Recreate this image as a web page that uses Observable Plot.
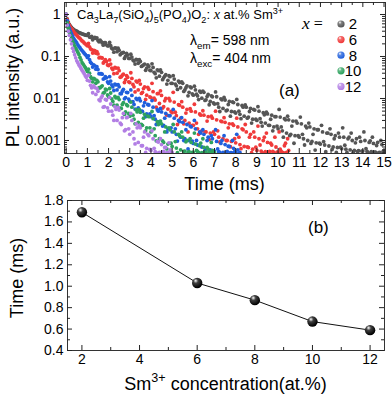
<!DOCTYPE html>
<html><head><meta charset="utf-8">
<script src="https://cdn.jsdelivr.net/npm/d3@7"></script>
<script src="https://cdn.jsdelivr.net/npm/@observablehq/plot@0.6"></script>
<style>
body{margin:0;background:#fff;}
#chart{width:392px;height:396px;font-family:"Liberation Sans",Arial,sans-serif;}
#chart svg{display:block;overflow:visible;}
</style></head><body><div id="chart"></div>
<script>
// ---------- Data ----------
const time = [0,0.05,0.1,0.15,0.2,0.25,0.3,0.35,0.4,0.45,0.5,0.55,0.6,0.65,0.7,0.75,0.8,0.85,0.9,0.95,
1,1.1,1.2,1.3,1.4,1.5,1.6,1.7,1.8,1.9,2,2.1,2.2,2.3,2.4,2.5,2.6,2.7,2.8,2.9,
3,3.1,3.2,3.3,3.4,3.5,3.6,3.7,3.8,3.9,4,4.1,4.2,4.3,4.4,4.5,4.6,4.7,4.8,4.9,
5,5.1,5.2,5.3,5.4,5.5,5.6,5.7,5.8,5.9,6,6.1,6.2,6.3,6.4,6.5,6.6,6.7,6.8,6.9,
7,7.1,7.2,7.3,7.4,7.5,7.6,7.7,7.8,7.9,8,8.1,8.2,8.3,8.4,8.5,8.6,8.7,8.8,8.9,
9,9.1,9.2,9.3,9.4,9.5,9.6,9.7,9.8,9.9,10,10.1,10.2,10.3,10.4,10.5,10.6,10.7,10.8,10.9,
11,11.1,11.2,11.3,11.4,11.5,11.6,11.7,11.8,11.9,12,12.1,12.2,12.3,12.4,12.5,12.6,12.7,12.8,12.9,
13,13.1,13.2,13.3,13.4,13.5,13.6,13.7,13.8,13.9,14,14.1,14.2,14.3,14.4,14.5,14.6,14.7,14.8,14.9,15];

// in-between sampling times (second set of readings)
const timeMid = [1.05,1.15,1.25,1.35,1.45,1.55,1.65,1.75,1.85,1.95,2.05,2.15,2.25,2.35,2.45,2.55,2.65,2.75,2.85,2.95,
3.05,3.15,3.25,3.35,3.45,3.55,3.65,3.75,3.85,3.95,4.05,4.15,4.25,4.35,4.45,4.55,4.65,4.75,4.85,4.95,
5.05,5.15,5.25,5.35,5.45,5.55,5.65,5.75,5.85,5.95,6.05,6.15,6.25,6.35,6.45,6.55,6.65,6.75,6.85,6.95,
7.05,7.15,7.25,7.35,7.45,7.55,7.65,7.75,7.85,7.95,8.05,8.15,8.25,8.35,8.45,8.55,8.65,8.75,8.85,8.95,
9.05,9.15,9.25,9.35,9.45,9.55,9.65,9.75,9.85,9.95,10.05,10.15,10.25,10.35,10.45,10.55,10.65,10.75,10.85,10.95,
11.05,11.15,11.25,11.35,11.45,11.55,11.65,11.75,11.85,11.95,12.05,12.15,12.25,12.35,12.45,12.55,12.65,12.75,12.85,12.95,
13.05,13.15,13.25,13.35,13.45,13.55,13.65,13.75,13.85,13.95,14.05,14.15,14.25,14.35,14.45,14.55,14.65,14.75,14.85,14.95];

const decay_x2 = [1,0.78,0.66,0.58,0.53,0.49,0.46,0.44,0.42,0.41,0.40,0.385,0.37,0.365,0.355,0.345,0.34,0.33,0.325,0.32,
0.32,0.29,0.30,0.27,0.27,0.24,0.245,0.21,0.215,0.19,
0.18,0.18,0.15,0.16,0.13,0.14,0.118,0.125,0.102,0.108,
0.09,0.097,0.078,0.085,0.069,0.076,0.06,0.066,0.053,0.058,
0.046,0.055,0.039,0.048,0.034,0.042,0.031,0.037,0.027,0.033,
0.023,0.029,0.020,0.026,0.018,0.023,0.016,0.020,0.014,0.018,
0.012,0.016,0.0115,0.015,0.0102,0.014,0.0093,0.0125,0.0085,0.011,
0.0074,0.011,0.0062,0.0098,0.0058,0.0092,0.0053,0.0085,0.0049,0.0080,
0.0045,0.0072,0.0042,0.0068,0.0038,0.0062,0.0036,0.0058,0.0032,0.0053,
0.0030,0.0050,0.0027,0.0046,0.0026,0.0043,0.0023,0.0040,0.0021,0.0037,
0.0019,0.0036,0.0017,0.0033,0.0015,0.0031,0.0014,0.0029,0.0013,0.0026,
0.0012,0.0025,0.0011,0.0022,0.0010,0.0021,0.00095,0.0019,0.00088,0.0018,
0.00082,0.0016,0.00078,0.0015,0.00074,0.0014,0.00070,0.0013,0.00068,0.0012,
0.00064,0.0012,0.00062,0.0011,0.00060,0.0010,0.00058,0.0011,0.00057,0.00095,
0.00056,0.0010,0.00055,0.0009,0.00054,0.00085,0.00053,0.0009,0.00052,0.0008,0.00055];
const decay_x2_mid = [0.35,0.286,0.249,0.284,0.278,0.224,0.228,0.186,0.214,0.179,
0.216,0.157,0.127,0.158,0.158,0.110,0.121,0.090,0.119,0.090,
0.113,0.082,0.066,0.083,0.084,0.058,0.063,0.047,0.063,0.047,
0.067,0.042,0.031,0.046,0.048,0.028,0.034,0.022,0.035,0.023,
0.035,0.022,0.0164,0.024,0.025,0.0147,0.018,0.0116,0.019,0.0129,
0.0196,0.0126,0.0094,0.014,0.0149,0.009,0.0111,0.0071,0.0116,0.0078,
0.0143,0.0075,0.0049,0.0093,0.0106,0.0051,0.0072,0.0038,0.0083,0.0048,
0.0095,0.005,0.0033,0.0062,0.007,0.0034,0.0049,0.0026,0.0055,0.0032,
0.0064,0.0033,0.0022,0.0041,0.0047,0.0023,0.0032,0.0017,0.0037,0.0022,
0.0055,0.0021,0.0012,0.0031,0.0038,0.0013,0.0022,0.00086,0.0029,0.0013,
0.0036,0.0014,0.00078,0.002,0.0026,0.00085,0.0014,0.00059,0.0018,0.00086,
0.0023,0.00094,0.00054,0.0015,0.0019,0.00061,0.0011,0.00052,0.0015,0.00069,
0.002,0.00077,0.00052,0.0012,0.0015,0.00051,0.00088,0.00055,0.0012,0.00056,
0.0016,0.00064,0.00052,0.00098,0.0012,0.00053,0.00076,0.00051,0.001,0.00054];

const decay_x6 = [1,0.76,0.63,0.56,0.50,0.46,0.43,0.39,0.36,0.34,0.32,0.30,0.28,0.27,0.25,0.235,0.225,0.21,0.20,0.19,
0.18,0.17,0.145,0.14,0.12,0.115,0.095,0.092,0.076,0.076,
0.061,0.066,0.049,0.055,0.040,0.046,0.033,0.038,0.028,0.032,
0.024,0.030,0.019,0.026,0.016,0.022,0.014,0.019,0.012,0.0165,
0.0105,0.0145,0.0092,0.013,0.0076,0.0118,0.0064,0.0100,0.0056,0.0088,
0.0046,0.0082,0.0039,0.0071,0.0034,0.0062,0.0030,0.0055,0.0026,0.0050,
0.0023,0.0048,0.0019,0.0043,0.0017,0.0040,0.0016,0.0037,0.0015,0.0034,
0.0014,0.0031,0.0012,0.0029,0.0011,0.0027,0.0010,0.0025,0.00095,0.0023,
0.00088,0.0021,0.00080,0.0019,0.00072,0.0016,0.00068,0.0014,0.00062,0.0012,
0.00058,0.0011,0.00056,0.0010,0.00054,0.0009,0.00055,0.00078,0.00052,0.00070,
0.00053,0.00062,0.00051,0.00075,0.00052,0.00058];
const decay_x6_mid = [0.205,0.151,0.121,0.138,0.131,0.093,0.094,0.070,0.084,0.063,
0.083,0.053,0.039,0.053,0.053,0.032,0.036,0.024,0.035,0.025,
0.041,0.0216,0.0143,0.0246,0.0268,0.0132,0.0172,0.0095,0.0184,0.0109,
0.023,0.0102,0.0062,0.0132,0.0152,0.0059,0.0088,0.004,0.01,0.0049,
0.014,0.0047,0.0024,0.0069,0.0084,0.0025,0.0045,0.0016,0.0057,0.0023,
0.0073,0.0026,0.0014,0.004,0.0051,0.0016,0.0029,0.00105,0.0038,0.0016,
0.005,0.0017,0.00092,0.0028,0.0035,0.001,0.002,0.00071,0.0025,0.0011,
0.0034,0.0012,0.00064,0.0018,0.0024,0.0007,0.0012,0.00051,0.0016,0.00069,
0.0022,0.00078,0.00052,0.0012,0.0015,0.0005,0.00086,0.00055,0.0012,0.00053,
0.0016,0.00055,0.00051,0.00086,0.0011];

const decay_x8 = [1,0.71,0.56,0.47,0.40,0.35,0.31,0.275,0.25,0.23,0.21,0.19,0.174,0.162,0.148,0.138,0.129,0.12,0.112,0.105,
0.095,0.084,0.068,0.063,0.050,0.049,0.039,0.038,0.030,0.031,
0.023,0.026,0.019,0.022,0.016,0.019,0.013,0.0165,0.0105,0.0138,
0.0086,0.0118,0.0072,0.0100,0.0060,0.0088,0.0049,0.0080,0.0043,0.0070,
0.0037,0.0062,0.0032,0.0054,0.0028,0.0048,0.0023,0.0044,0.0019,0.0039,
0.0016,0.0034,0.0014,0.0030,0.0012,0.0027,0.0011,0.0024,0.0010,0.0021,
0.00085,0.0019,0.00078,0.0016,0.00070,0.0014,0.00064,0.0012,0.00060,0.0011,
0.00056,0.00095,0.00054,0.00085,0.00052,0.0008,0.00055,0.00072,0.00051,0.00065,
0.00053,0.0006,0.00052];
const decay_x8_mid = [0.104,0.073,0.056,0.060,0.057,0.039,0.039,0.029,0.033,0.025,
0.033,0.021,0.0155,0.021,0.0214,0.013,0.0149,0.0098,0.014,0.0097,
0.016,0.0084,0.0056,0.0094,0.0101,0.005,0.0067,0.0037,0.0072,0.0043,
0.0089,0.0039,0.0024,0.005,0.0058,0.0022,0.0034,0.0016,0.0039,0.002,
0.0055,0.0019,0.00097,0.0028,0.0035,0.001,0.0018,0.00063,0.0022,0.00097,
0.003,0.001,0.00051,0.0015,0.0018,0.00057,0.001,0.00052,0.0013,0.00055,
0.0018,0.00063,0.00052,0.001,0.0013,0.00053,0.00073,0.00051,0.001,0.00054,
0.0014,0.0005];

const decay_x10 = [1,0.63,0.47,0.38,0.32,0.27,0.234,0.204,0.178,0.158,0.141,0.126,0.112,0.095,0.083,0.071,0.066,0.060,0.055,0.049,
0.044,0.040,0.030,0.030,0.023,0.025,0.018,0.020,0.014,0.016,
0.011,0.0135,0.0085,0.0112,0.0069,0.0094,0.0058,0.0080,0.0048,0.0067,
0.0038,0.0062,0.0032,0.0054,0.0027,0.0047,0.0023,0.0042,0.0020,0.0037,
0.0016,0.0033,0.0013,0.0028,0.0011,0.0025,0.0009,0.0021,0.00082,0.0018,
0.00072,0.0016,0.00066,0.0014,0.00060,0.0012,0.00056,0.0010,0.00054,0.0009,
0.00052,0.00082,0.00055,0.00075,0.00051,0.00068,0.00053,0.00062,0.00052,0.00058,0.00051];
const decay_x10_mid = [0.050,0.033,0.025,0.029,0.027,0.018,0.019,0.0134,0.0168,0.0121,
0.0173,0.0098,0.0069,0.0103,0.0106,0.0059,0.0072,0.0042,0.0071,0.0044,
0.0082,0.004,0.0025,0.0048,0.0055,0.0024,0.0034,0.0017,0.0038,0.002,
0.0049,0.0019,0.00098,0.0024,0.0029,0.00098,0.0016,0.00063,0.002,0.00086,
0.0024,0.00094,0.00051,0.0013,0.0016,0.00055,0.00093,0.00052,0.0011,0.00052,
0.0015,0.00058,0.00051,0.00087,0.0011,0.00052,0.00068,0.00051,0.0009,0.00053];

const decay_x12 = [1,0.56,0.40,0.32,0.25,0.20,0.158,0.132,0.110,0.093,0.079,0.071,0.063,0.058,0.052,0.047,0.043,0.039,0.035,0.032,
0.027,0.026,0.018,0.020,0.0125,0.0148,0.0088,0.0115,0.0064,0.0092,
0.0050,0.0074,0.0040,0.0064,0.0030,0.0053,0.0024,0.0044,0.0018,0.0036,
0.0014,0.0030,0.0011,0.0025,0.00090,0.0020,0.00075,0.0016,0.00065,0.0013,
0.00058,0.0011,0.00054,0.00095,0.00052,0.00080,0.00055,0.00068,0.00051,0.0006,0.00052];
const decay_x12_mid = [0.036,0.0206,0.0137,0.0182,0.0173,0.0093,0.0104,0.0062,0.0095,0.006,
0.0106,0.005,0.003,0.0055,0.0061,0.0026,0.0035,0.0017,0.0035,0.0019,
0.0044,0.0016,0.00083,0.002,0.0023,0.00075,0.0012,0.00052,0.0014,0.00061,
0.0017,0.00065,0.00051,0.00092,0.0011,0.00052,0.00068,0.00051,0.00088,0.00051];

const seriesLabels = ["2","6","8","10","12"];
const seriesColors = ["#555555","#f03a3a","#1f5fdc","#2ea25e","#b27ee4"];

const concentration = [2,6,8,10,12];
const lifetime = [1.69,1.03,0.87,0.67,0.59];

const xTicksA = [0,1,2,3,4,5,6,7,8,9,10,11,12,13,14,15];
const xMinorA = [0.5,1.5,2.5,3.5,4.5,5.5,6.5,7.5,8.5,9.5,10.5,11.5,12.5,13.5,14.5];
const yTicksA = [1,0.1,0.01,0.001];
const yTickLabelsA = ["1","0.1","0.01","0.001"];
const yMinorA = [0.0005,0.0006,0.0007,0.0008,0.0009,0.002,0.003,0.004,0.005,0.006,0.007,0.008,0.009,
0.02,0.03,0.04,0.05,0.06,0.07,0.08,0.09,0.2,0.3,0.4,0.5,0.6,0.7,0.8,0.9];
const xTicksB = [2,4,6,8,10,12];
const xMinorB = [3,5,7,9,11];
const yTicksB = [0.4,0.6,0.8,1.0,1.2,1.4,1.6,1.8];
const yMinorB = [0.5,0.7,0.9,1.1,1.3,1.5,1.7];

// ---------- Build ----------
const decays = [decay_x2, decay_x6, decay_x8, decay_x10, decay_x12];
const decaysMid = [decay_x2_mid, decay_x6_mid, decay_x8_mid, decay_x10_mid, decay_x12_mid];
const seriesRows = decays.map((vals, k) =>
  vals.map((v, i) => ({t: time[i], I: v})).concat(decaysMid[k].map((v, i) => ({t: timeMid[i], I: v}))));
const rowsB = concentration.map((c, i) => ({c, tau: lifetime[i]}));

const FONT = "'Liberation Sans', Arial, sans-serif";
const W = 392;
const A = {h: 195, ml: 64, mr: 7, mt: 2, mb: 42};
const fwA = W - A.ml - A.mr, fhA = A.h - A.mt - A.mb;
const B = {h: 201, ml: 67, mr: 8, mt: 5, mb: 46};
const fwB = W - B.ml - B.mr, fhB = B.h - B.mt - B.mb;
const tickCol = "#222";

function frameTicks(xMaj, xMin, yMaj, yMin, fw, fh) {
  const out = [];
  for (const [vals, len] of [[xMaj, 5], [xMin, 3]]) {
    out.push(Plot.tickX(vals, {x: d => d, insetTop: fh - len, stroke: tickCol, strokeWidth: 1}));
    out.push(Plot.tickX(vals, {x: d => d, insetBottom: fh - len, stroke: tickCol, strokeWidth: 1}));
  }
  for (const [vals, len] of [[yMaj, 5], [yMin, 3]]) {
    out.push(Plot.tickY(vals, {y: d => d, insetRight: fw - len, stroke: tickCol, strokeWidth: 1}));
    out.push(Plot.tickY(vals, {y: d => d, insetLeft: fw - len, stroke: tickCol, strokeWidth: 1}));
  }
  return out;
}

const plotA = Plot.plot({
  width: W, height: A.h,
  marginLeft: A.ml, marginRight: A.mr, marginTop: A.mt, marginBottom: A.mb,
  style: {fontFamily: FONT, fontSize: "14px", color: "#000", background: "transparent", overflow: "visible"},
  x: {domain: [-0.08, 15.07], ticks: xTicksA, tickSize: 0, tickPadding: 4, label: null, tickFormat: d => String(d)},
  y: {type: "log", domain: [0.00049, 1.93], ticks: yTicksA, tickSize: 0, tickPadding: 4, label: null,
      tickFormat: d => yTickLabelsA[yTicksA.indexOf(d)] ?? ""},
  marks: [
    ...seriesRows.map((rows, k) => Plot.dot(rows, {x: "t", y: "I", r: 1.9, fill: seriesColors[k], stroke: null, clip: true})),
    Plot.frame({stroke: "#333", strokeWidth: 1}),
    ...frameTicks(xTicksA, xMinorA, yTicksA, yMinorA, fwA, fhA)
  ]
});

const plotB = Plot.plot({
  width: W, height: B.h,
  marginLeft: B.ml, marginRight: B.mr, marginTop: B.mt, marginBottom: B.mb,
  style: {fontFamily: FONT, fontSize: "14px", color: "#000", background: "transparent", overflow: "visible"},
  x: {domain: [1.5, 12.5], ticks: xTicksB, tickSize: 0, tickPadding: 4, label: null, tickFormat: d => String(d)},
  y: {domain: [0.4, 1.8], ticks: yTicksB, tickSize: 0, tickPadding: 4, label: null, tickFormat: d => d.toFixed(1)},
  marks: [
    Plot.line(rowsB, {x: "c", y: "tau", stroke: "#111", strokeWidth: 1}),
    Plot.dot(rowsB, {x: "c", y: "tau", r: 5.2, fill: "#010101", stroke: null}),
    Plot.frame({stroke: "#333", strokeWidth: 1}),
    ...frameTicks(xTicksB, xMinorB, yTicksB, yMinorB, fwB, fhB)
  ]
});

const root = document.getElementById("chart");
root.appendChild(plotA);
root.appendChild(plotB);

// ---------- Decorations (gradients, annotations, legend, axis titles) ----------
function gradient(svg, id, color) {
  let defs = svg.select("defs.deco");
  if (defs.empty()) defs = svg.insert("defs", ":first-child").attr("class", "deco");
  const g = defs.append("radialGradient").attr("id", id).attr("cx", "38%").attr("cy", "32%").attr("r", "65%")
    .attr("fx", "35%").attr("fy", "28%");
  g.append("stop").attr("offset", "0%").attr("stop-color", "#ffffff");
  g.append("stop").attr("offset", "35%").attr("stop-color", d3.interpolateRgb(color, "#fff")(0.25));
  g.append("stop").attr("offset", "100%").attr("stop-color", color);
}
function rich(sel, x, y, size, parts, anchor) {
  const t = sel.append("text").attr("x", x).attr("y", y).attr("font-size", size).attr("fill", "#000")
    .attr("font-family", FONT).attr("text-anchor", anchor || "start");
  let shift = 0;
  for (const [s, kind] of parts) {
    const target = kind === "sub" ? 0.28 * size : kind === "sup" ? -0.42 * size : 0;
    const ts = t.append("tspan").text(s).attr("dy", target - shift);
    shift = target;
    if (kind === "sub" || kind === "sup") ts.attr("font-size", size * 0.7);
    if (kind === "it") ts.attr("font-style", "italic").attr("font-family", "'Liberation Serif', 'Times New Roman', serif").attr("font-size", size * 1.1);
  }
  return t;
}
function vtitle(sel, cx, cy, size, str) {
  sel.append("text").attr("transform", `translate(${cx},${cy}) rotate(-90)`).attr("text-anchor", "middle")
    .attr("dy", "0.35em").attr("font-size", size).attr("font-family", FONT).attr("fill", "#000").text(str);
}

const sA = d3.select(plotA);
const sB = d3.select(plotB);

vtitle(sA, 13, A.mt + fhA / 2, 18, "PL intensity (a.u.)");
rich(sA, A.ml + fwA / 2, 190, 18, [["Time (ms)"]], "middle");
rich(sA, 77, 19, 13, [["Ca"],["3","sub"],["La"],["7","sub"],["(SiO"],["4","sub"],[")"],["5","sub"],["(PO"],["4","sub"],[")O"],["2","sub"],[": "],["x","it"],[" at.% Sm"],["3+","sup"]]);
rich(sA, 190, 45, 14, [["λ"],["em","sub"],["= 598 nm"]]);
rich(sA, 190, 63, 14, [["λ"],["exc","sub"],["= 404 nm"]]);
rich(sA, 279, 96, 17, [["(a)"]]);

// legend
rich(sA, 302, 29, 16, [["x","it"],[" ="]]).attr("font-family", "'Liberation Serif', 'Times New Roman', serif");
const legY = [24, 39.6, 55.2, 70.8, 86.4];
seriesLabels.forEach((lab, k) => {
  gradient(sA, "lg" + k, seriesColors[k]);
  sA.append("circle").attr("cx", 341).attr("cy", legY[k]).attr("r", 3.6).attr("fill", `url(#lg${k})`);
  sA.append("text").attr("x", 353).attr("y", legY[k] + 5.3).attr("font-size", 15).attr("font-family", FONT).attr("fill", "#000").text(lab);
});

// panel b
gradient(sB, "ballB", "#000000");
sB.selectAll("g[fill='#010101']").attr("fill", "url(#ballB)");
vtitle(sB, 17, B.mt + fhB / 2 + 3, 18, "Time (ms)");
rich(sB, 308, 38, 17, [["(b)"]]);
rich(sB, B.ml + fwB / 2, 195, 18, [["Sm"],["3+","sup"],[" concentration(at.%)"]], "middle");
</script></body></html>
